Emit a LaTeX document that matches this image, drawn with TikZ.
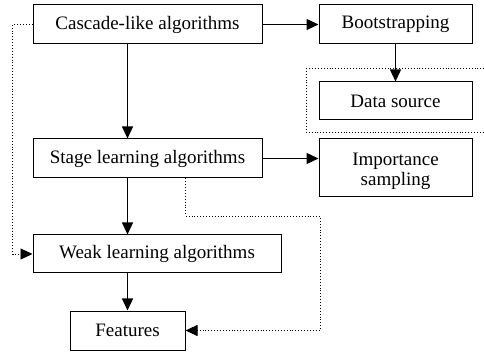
\documentclass[tikz,border=0pt]{standalone}
\usepackage{fontspec}
\setmainfont{Liberation Serif}
\usetikzlibrary{positioning,arrows.meta,calc}

\begin{document}
\begin{tikzpicture}[
	x=1pt, y=-1pt,
	every node/.style={
		text centered,
		font=\fontsize{19}{22}\selectfont
	},
	block/.style={
		rectangle,
		draw=black,
		line width=1pt,
		inner sep=0pt,
		minimum height=39pt
	},
	flow/.style={
		line width=1.3pt,
		-{Triangle[length=12pt,width=11pt]}
	},
	hint/.style={
		dotted,
		line width=0.9pt,
		-{Triangle[length=12pt,width=11pt]}
	}
]
  \useasboundingbox (0,0) rectangle (484,352);

  \node (Cascade) [block, minimum width=229pt] at (147.5,24.5) {Cascade-like algorithms};
  \node (Bootstrap) [block, minimum width=153pt] at (395.5,24.5) {Bootstrapping};
  \node (DataSource) [block, minimum width=153pt, minimum height=38pt] at (395.5,101) {Data source};
  \node (Stage) [block, minimum width=229pt] at (147.5,158.5) {Stage learning algorithms};
  \node (Importance) [block, minimum width=153pt, minimum height=58pt] at (395.5,168) {};
  \node (ImportanceText) at (395.5,171) {\shortstack{Importance\\sampling}};
  \node (Weak) [block, minimum width=248pt, minimum height=38pt] at (157,254) {Weak learning algorithms};
  \node (Features) [block, minimum width=115pt] at (127.5,330.5) {Features};

  \draw[dotted, line width=0.9pt] (306,68) rectangle (492,132);
  \coordinate (Detour) at (320,216);

  \draw[flow] (Cascade) -- (Bootstrap);
  \draw[flow] (Bootstrap) -- (DataSource);
  \draw[flow] (Cascade.south -| Features.north) -- (Stage.north -| Features.north);
  \draw[flow] (Stage.east) -- (Importance.west |- Stage.east);
  \draw[flow] (Stage.south -| Features.north) -- (Weak.north -| Features.north);
  \draw[flow] (Weak.south -| Features.north) -- (Features.north);

  \draw[hint] (Cascade.west) -- ++(-20,0) |- (Weak.west);
  \draw[hint] (Stage.south -| Features.east) |- (Detour) |- (Features.east);
\end{tikzpicture}
\end{document}
